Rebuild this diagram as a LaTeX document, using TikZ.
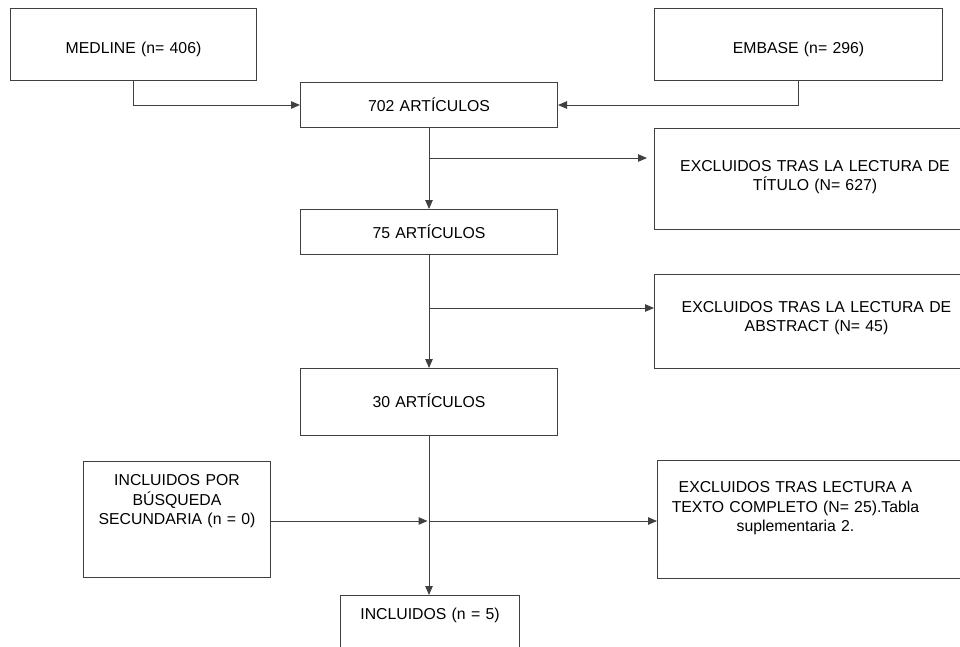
\documentclass[tikz,border=0pt]{standalone}
\usepackage{fontspec}
\setmainfont{Liberation Sans}
\usetikzlibrary{arrows.meta}
\tikzstyle{box} = [rectangle, draw=black!75, line width=1pt, inner sep=0pt, anchor=north west, align=center, font=\fontsize{15.8}{19.2}\selectfont]
\tikzstyle{arrow} = [line width=1pt, draw=black!75, ->, >={Triangle[length=9pt,width=7.5pt]}]

\begin{document}
\begin{tikzpicture}[x=1pt, y=-1pt]
	\useasboundingbox (0,0) rectangle (960,646);
	\node (medline) [box, text width=246pt, text height=44.7pt, text depth=27.3pt] at (10,8) {MEDLINE (n= 406)};
	\node (embase) [box, text width=288pt, text height=44.7pt, text depth=27.3pt] at (654,8) {EMBASE (n= 296)};
	\node (art702) [box, text width=257pt, text height=28.7pt, text depth=16.3pt] at (300,82) {702 ARTÍCULOS};
	\node (excl1) [box, text width=321pt, text height=42.7pt, text depth=58.3pt] at (654,128) {EXCLUIDOS TRAS LA LECTURA DE\\TÍTULO (N= 627)};
	\node (art75) [box, text width=257pt, text height=29.3pt, text depth=15.7pt] at (300,209) {75 ARTÍCULOS};
	\node (excl2) [box, text width=324pt, text height=37.7pt, text depth=56.3pt] at (654,274) {EXCLUIDOS TRAS LA LECTURA DE\\ABSTRACT (N= 45)};
	\node (art30) [box, text width=257pt, text height=39.3pt, text depth=27.7pt] at (300,368) {30 ARTÍCULOS};
	\node (secund) [box, text width=187pt, text height=24.3pt, text depth=91.7pt] at (83,461) {INCLUIDOS POR\\BÚSQUEDA\\SECUNDARIA (n = 0)};
	\node (excl3) [box, text width=310pt, text height=32.3pt, text depth=85.7pt] at (657,460) {\leftskip=0pt plus 1fill\rightskip=34pt plus 1fill\parfillskip=0pt EXCLUIDOS TRAS LECTURA A\\TEXTO COMPLETO (N= 25).Tabla\\suplementaria 2.\par};
	\node (incl) [box, text width=179pt, text height=24.3pt, text depth=45.7pt] at (340,595) {INCLUIDOS (n = 5)};
	% splits on the main line
	\coordinate (split1) at (art702.south |- 0,158);
	\coordinate (split2) at (art75.south |- 0,308);
	\coordinate (split3) at (art30.south |- 0,521);
	\draw [arrow] (medline.south) |- (art702.west);
	\draw [arrow] (embase.south) |- (art702.east);
	\draw [arrow] (art702.south) -- (art75.north);
	\draw [arrow, shorten >=7pt] (split1) -- (split1 -| excl1.west);
	\draw [arrow] (art75.south) -- (art30.north);
	\draw [arrow] (split2) -- (split2 -| excl2.west);
	\draw [arrow] (art30.south) -- (art30.south |- incl.north);
	\draw [arrow, shorten >=1.5pt] (split3 -| secund.east) -- (split3);
	\draw [arrow] (split3) -- (split3 -| excl3.west);
\end{tikzpicture}
\end{document}
